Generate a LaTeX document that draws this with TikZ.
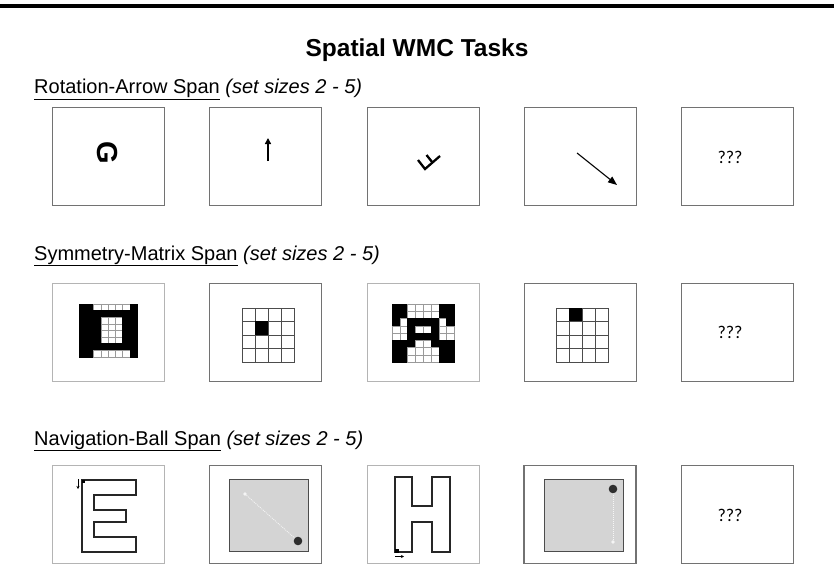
\documentclass[tikz,border=0pt]{standalone}
\usepackage{fontspec}
\setmainfont{Liberation Sans}
\newfontfamily\qmarkfont{Carlito}
\usepackage{xcolor}
\usetikzlibrary{arrows.meta}

\definecolor{boxgray}{HTML}{727272}
\definecolor{boxlight}{HTML}{B4B4B4}
\definecolor{gridgray}{HTML}{9A9A9A}
\definecolor{padgray}{HTML}{D4D4D4}
\definecolor{ballgray}{HTML}{2E2E2E}

\tikzset{
    taskbox/.style={draw=boxgray, line width=0.9pt, minimum width=112pt,
        minimum height=98pt, inner sep=0pt},
    lightbox/.style={taskbox, draw=boxlight},
    heavybox/.style={taskbox, line width=1.3pt},
    heading/.style={anchor=base west, inner sep=0pt,
        font=\fontsize{20}{22}\selectfont},
    qmark/.style={inner sep=0pt, font=\qmarkfont\fontsize{18}{20}\selectfont},
    outline/.style={draw=black!85, line width=1.1pt, line join=miter},
    pad/.style={fill=padgray, draw=black!70, line width=0.9pt},
    trace/.style={draw=white!92!gray, line width=0.8pt, dash pattern=on 1pt off 1pt},
    startdot/.style={fill=white!92!gray},
}

\newcommand{\cellgrid}[6]{%
    \foreach \bits [count=\r from 0] in {#6} {
        \foreach \v [count=\c from 0] in \bits {
            \ifnum\v=1
                \filldraw[fill=black, draw=black, line width=0.4pt]
                    ({#1+\c*#3},{#2+\r*#4}) rectangle ++(#3,#4);
            \else
                \filldraw[fill=white, draw=#5, line width=0.5pt]
                    ({#1+\c*#3},{#2+\r*#4}) rectangle ++(#3,#4);
            \fi
        }
    }
}

\begin{document}
\begin{tikzpicture}[x=1pt, y=-1pt]
    \useasboundingbox (0,0) rectangle (834,583);
    \draw[line width=4pt] (0,6) -- (834,6);

    \node[font=\bfseries\fontsize{24.5}{28}\selectfont] (title) at (417,50) {Spatial WMC Tasks};

    \node[heading] (rotlabel) at (34,94) {\underline{Rotation-Arrow Span} \textit{(set sizes 2 - 5)}};
    \node[heading] (symlabel) at (34,260) {\underline{Symmetry-Matrix Span} \textit{(set sizes 2 - 5)}};
    \node[heading] (navlabel) at (34,445) {\underline{Navigation-Ball Span} \textit{(set sizes 2 - 5)}};

    \node[taskbox] (rot1) at (108,156) {};
    \node[taskbox] (rot2) at (265.5,156) {};
    \node[taskbox] (rot3) at (423,156) {};
    \node[taskbox] (rot4) at (580,156) {};
    \node[taskbox] (rot5) at (737.5,156) {};

    \node[rotate=-90, font=\bfseries\fontsize{29}{29}\selectfont] (letterG) at (107,153) {G};
    \draw[-{Triangle[length=6pt,width=6pt]}, line width=1.4pt] (268,161) -- (268,138);
    \draw[line width=2.3pt, line cap=butt, line join=miter] (418,160) -- (425,169) -- (440,156);
    \draw[line width=2.3pt] (432.5,162.5) -- (426.5,155);
    \draw[-{Triangle[length=9pt,width=7pt]}, line width=1.1pt] (577,153) -- (617,185);
    \node[qmark] (rotq) at (730,157) {???};

    \node[lightbox] (sym1) at (108,332) {};
    \node[taskbox] (sym2) at (265.5,332) {};
    \node[lightbox] (sym3) at (423,332) {};
    \node[taskbox] (sym4) at (580,332) {};
    \node[taskbox] (sym5) at (737.5,332) {};

    \cellgrid{79}{304}{7.25}{6.6}{gridgray}{
        {1,1,0,0,0,0,0,1},{1,1,1,1,1,1,1,1},{1,1,1,0,0,0,1,1},{1,1,1,0,0,0,1,1},
        {1,1,1,0,0,0,1,1},{1,1,1,0,0,0,1,1},{1,1,1,1,1,1,1,1},{1,1,0,0,0,0,0,1}}
    \cellgrid{242}{308}{13}{13.5}{black!70}{
        {0,0,0,0},{0,1,0,0},{0,0,0,0},{0,0,0,0}}
    \cellgrid{392}{304}{7.8}{7.25}{gridgray}{
        {1,1,0,0,0,0,1,1},{1,1,0,0,0,0,1,1},{1,0,1,1,1,1,0,1},{0,0,1,0,0,1,0,0},
        {0,0,1,1,1,1,0,0},{1,1,1,0,0,1,1,1},{1,1,0,0,0,0,1,1},{1,1,0,0,0,0,1,1}}
    \cellgrid{556}{308}{13}{13.5}{black!70}{
        {0,1,0,0},{0,0,0,0},{0,0,0,0},{0,0,0,0}}
    \node[qmark] (symq) at (730,332) {???};

    \node[lightbox] (nav1) at (108,514.5) {};
    \node[heavybox] (nav2) at (265.5,514.5) {};
    \node[lightbox] (nav3) at (423,514.5) {};
    \node[heavybox] (nav4) at (580,514.5) {};
    \node[taskbox] (nav5) at (737.5,514.5) {};

    \draw[outline] (82,480) -- (136,480) -- (136,495) -- (94,495) -- (94,510) -- (126,510)
        -- (126,522) -- (94,522) -- (94,537) -- (136,537) -- (136,552) -- (82,552) -- cycle;
    \fill (81.5,479.5) rectangle (85,483);
    \draw[-{Stealth[length=3pt,width=3pt]}, line width=0.6pt] (78,479) -- (78,489);

    \draw[pad] (229,479) rectangle (308,551);
    \draw[trace] (245,494) -- (298,541);
    \fill[startdot] (245,494) circle (1.8);
    \fill[ballgray] (298,541) circle (4.3);

    \draw[outline] (395,477) -- (412,477) -- (412,506) -- (432,506) -- (432,477) -- (450,477)
        -- (450,552) -- (432,552) -- (432,522) -- (412,522) -- (412,552) -- (395,552) -- cycle;
    \fill (395,549) rectangle (398.5,552.5);
    \draw[-{Stealth[length=3pt,width=3pt]}, line width=0.6pt] (395,556.5) -- (404,556.5);

    \draw[pad] (544,479) rectangle (623,551);
    \draw[trace] (613,489) -- (613,541);
    \fill[startdot] (613,542) circle (1.8);
    \fill[ballgray] (613,489) circle (4.3);

    \node[qmark] (navq) at (730,515) {???};
\end{tikzpicture}
\end{document}
